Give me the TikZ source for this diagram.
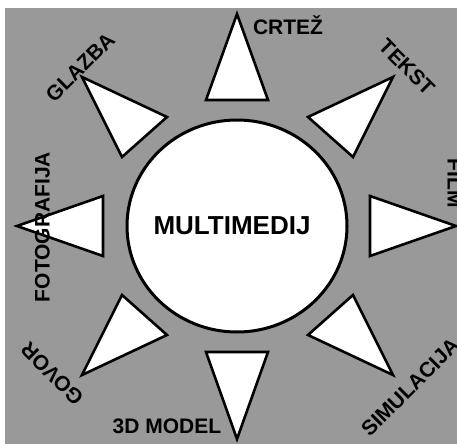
\documentclass[tikz,border=0pt]{standalone}
\usepackage{fontspec}
\setmainfont{Liberation Sans}
\begin{document}
\begin{tikzpicture}[x=1pt,y=-1pt,
  tri/.style={draw=black, fill=white, line width=2.6pt, line join=miter},
  hub/.style={draw=black, fill=white, line width=3pt},
  lbl/.style={font=\fontsize{21}{21}\selectfont\bfseries, inner sep=0pt, text height=15pt, text depth=0pt},
  big/.style={font=\fontsize{26}{26}\selectfont\bfseries, inner sep=0pt, text height=19pt, text depth=0pt}]
\useasboundingbox (0,0) rectangle (457,444);
\fill[black!40] (5,8) rectangle (457,444);
% central circle
\draw[hub] (237,226) ellipse [x radius=110, y radius=106];
\node[big] (hubtext) at (232,225) {MULTIMEDIJ};
% triangles
\draw[tri] (237,14) -- (268,100) -- (206,100) -- cycle;
\draw[tri] (237,439) -- (268,352) -- (206,352) -- cycle;
\draw[tri] (17,226) -- (103,196) -- (103,256) -- cycle;
\draw[tri] (456,226) -- (370,196) -- (370,256) -- cycle;
\draw[tri] (82,77) -- (167,117) -- (122,157) -- cycle;
\draw[tri] (393,77) -- (308,117) -- (353,157) -- cycle;
\draw[tri] (82,375) -- (122,295) -- (167,335) -- cycle;
\draw[tri] (393,375) -- (353,295) -- (308,335) -- cycle;
% labels
\node[lbl] (crtez) at (288,27) {CRTEŽ};
\node[lbl, rotate=-45] (tekst) at (407,67) {TEKST};
\node[lbl, rotate=-90] (film) at (455,183) {FILM};
\node[lbl, rotate=45] (sim) at (410,387) {SIMULACIJA};
\node[lbl] (model) at (167,426) {3D MODEL};
\node[lbl, rotate=135] (govor) at (52,374) {GOVOR};
\node[lbl, rotate=90] (foto) at (42,227) {FOTOGRAFIJA};
\node[lbl, rotate=45] (glazba) at (80,67) {GLAZBA};
\end{tikzpicture}
\end{document}
